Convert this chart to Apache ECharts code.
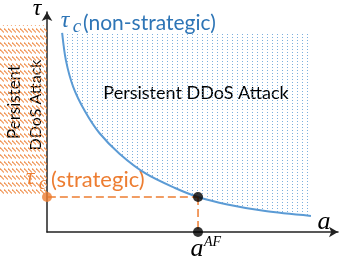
<!DOCTYPE html>
<html><head><meta charset="utf-8">
<script src="https://cdn.jsdelivr.net/npm/echarts@6/dist/echarts.min.js"></script>
<style>html,body{margin:0;padding:0;background:#fff}#c{width:346px;height:265px}</style>
</head><body><div id="c"></div>
<script>
// Threshold curve tau_c(a) (non-strategic)
const curveA   = [5.2, 6.5, 9, 13, 18, 25, 34, 44, 51.9, 62, 75, 90.7];
const curveTau = [90.5, 78, 66, 55, 45, 35.5, 26.5, 20, 15.9, 12.5, 9.5, 7.3];
// Shaded region bounds
const regionTop = 90.5;
const regionRight = 90.7;
// Strategic threshold and a^AF
const aAF = 51.9;
const tauStrategic = 15.9;
// Hatched region (left of the tau axis)
const hatchA = [-16.2, 0];
const hatchTau = [17, 94.1];

function makeDots() {
  const c = document.createElement('canvas'); c.width = 5; c.height = 3;
  const g = c.getContext('2d');
  g.fillStyle = 'rgba(91,155,213,0.8)';
  g.fillRect(2, 1, 1, 1);
  return c;
}
function makeHatch() {
  const c = document.createElement('canvas'); c.width = 4; c.height = 7;
  const g = c.getContext('2d');
  g.strokeStyle = 'rgba(240,140,70,0.9)'; g.lineWidth = 1.1;
  g.beginPath(); g.moveTo(0, 0.5); g.lineTo(4, 4.5); g.stroke();
  return c;
}
const dotPattern = { image: makeDots(), repeat: 'repeat' };
const hatchPattern = { image: makeHatch(), repeat: 'repeat' };

const chart = echarts.init(document.getElementById('c'), null, { renderer: 'canvas' });
const sans = '"Lato", "Open Sans", sans-serif';
const blue = '#2e75b6', orange = '#ed7d31';

chart.setOption({
  animation: false,
  grid: { left: 47, right: 8, top: 12, bottom: 33 },
  xAxis: { type: 'value', min: 0, max: 100, splitLine: { show: false }, axisTick: { show: false }, axisLabel: { show: false },
    axisLine: { lineStyle: { color: '#222', width: 1.5 }, symbol: ['none', 'arrow'], symbolSize: [8, 9] } },
  yAxis: { type: 'value', min: 0, max: 100, splitLine: { show: false }, axisTick: { show: false }, axisLabel: { show: false },
    axisLine: { lineStyle: { color: '#222', width: 1.5 }, symbol: ['none', 'arrow'], symbolSize: [8, 9] } },
  series: [
    { type: 'custom', clip: false, z: 1, data: [0],
      renderItem: function (params, api) {
        const pts = curveA.map((a, i) => api.coord([a, curveTau[i]]));
        pts.push(api.coord([regionRight, regionTop]));
        const h0 = api.coord([hatchA[0], hatchTau[0]]), h1 = api.coord([hatchA[1], hatchTau[1]]);
        return { type: 'group', children: [
          { type: 'polygon', shape: { points: pts }, style: { fill: dotPattern } },
          { type: 'rect', shape: { x: h0[0], y: h1[1], width: h1[0] - h0[0], height: h0[1] - h1[1] }, style: { fill: hatchPattern } }
        ] };
      } },
    { type: 'line', clip: false, z: 3, smooth: 0.3, showSymbol: false, data: curveA.map((a, i) => [a, curveTau[i]]),
      lineStyle: { color: '#5b9bd5', width: 2 } },
    { type: 'line', clip: false, z: 4, showSymbol: false, data: [[hatchA[0], tauStrategic], [aAF, tauStrategic]],
      lineStyle: { color: orange, width: 1.5, type: [8, 4] } },
    { type: 'line', clip: false, z: 4, showSymbol: false, data: [[aAF, tauStrategic], [aAF, 0]],
      lineStyle: { color: orange, width: 1.5, type: [8, 4] } },
    { type: 'scatter', z: 5, symbolSize: 10, itemStyle: { color: '#000' }, data: [[aAF, tauStrategic], [aAF, 0]] },
    { type: 'scatter', z: 5, symbolSize: 10, clip: false, itemStyle: { color: orange }, data: [[0, tauStrategic]] }
  ],
  graphic: [
    { type: 'text', x: 37, y: 9, style: { text: 'τ', font: 'italic 24px "Liberation Serif"', fill: '#000', align: 'center', verticalAlign: 'middle' } },
    { type: 'text', x: 65, y: 21, style: { text: 'τ', font: 'italic 24px "Liberation Serif"', fill: blue, align: 'center', verticalAlign: 'middle' } },
    { type: 'text', x: 77, y: 27, style: { text: 'c', font: 'italic 19px "Liberation Serif"', fill: blue, align: 'center', verticalAlign: 'middle' } },
    { type: 'text', x: 83, y: 23, style: { text: '(non-strategic)', font: '21px ' + sans, fill: blue, align: 'left', verticalAlign: 'middle' } },
    { type: 'text', x: 196, y: 93, style: { text: 'Persistent DDoS Attack', font: '18px ' + sans, fill: '#000', align: 'center', verticalAlign: 'middle' } },
    { type: 'text', x: 15, y: 102, rotation: Math.PI / 2, style: { text: 'Persistent', font: '17px ' + sans, fill: '#000', align: 'center', verticalAlign: 'middle' } },
    { type: 'text', x: 35.5, y: 105, rotation: Math.PI / 2, style: { text: 'DDoS Attack', font: '16px ' + sans, fill: '#000', align: 'center', verticalAlign: 'middle' } },
    { type: 'text', x: 30, y: 178, style: { text: 'τ', font: 'italic 24px "Liberation Serif"', fill: orange, align: 'center', verticalAlign: 'middle' } },
    { type: 'text', x: 43, y: 184, style: { text: 'c', font: 'italic 19px "Liberation Serif"', fill: orange, align: 'center', verticalAlign: 'middle' } },
    { type: 'text', x: 51, y: 180, style: { text: '(strategic)', font: '22px ' + sans, fill: orange, align: 'left', verticalAlign: 'middle' } },
    { type: 'text', x: 324, y: 222, style: { text: 'a', font: 'italic 26px "Liberation Serif"', fill: '#000', align: 'center', verticalAlign: 'middle' } },
    { type: 'text', x: 197, y: 249, style: { text: 'a', font: 'italic 26px "Liberation Serif"', fill: '#000', align: 'center', verticalAlign: 'middle' } },
    { type: 'text', x: 204, y: 242, style: { text: 'AF', font: 'italic 14px "Liberation Serif"', fill: '#000', align: 'left', verticalAlign: 'middle' } }
  ]
});
</script></body></html>
